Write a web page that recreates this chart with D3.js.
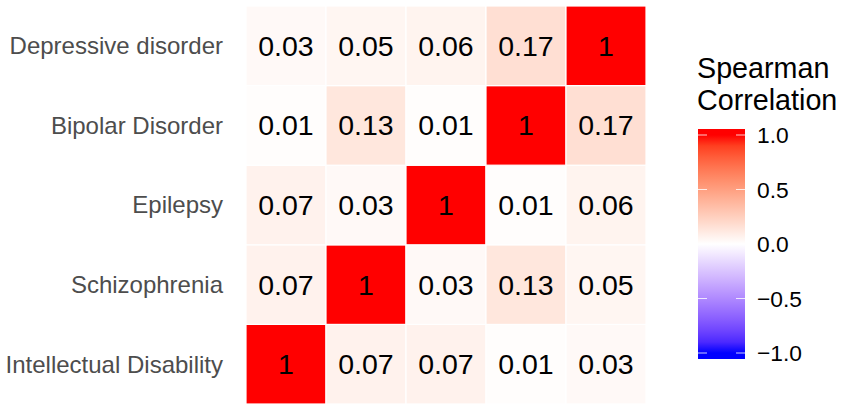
<!DOCTYPE html>
<html>
<head>
<meta charset="utf-8">
<script src="https://cdn.jsdelivr.net/npm/d3@7"></script>
<style>
  body { margin: 0; background: #fff; }
  svg { font-family: "Liberation Sans", Arial, sans-serif; display: block; }
</style>
</head>
<body>
<div id="chart"></div>
<script>
// disorders, bottom to top on y, left to right on x
var disorders = ['Intellectual Disability', 'Schizophrenia', 'Epilepsy', 'Bipolar Disorder', 'Depressive disorder'];

// correlation rows, in the order of disorders (row i = disorder i, col j = disorder j)
var row_intellectual = [1, 0.07, 0.07, 0.01, 0.03];
var row_schizophrenia = [0.07, 1, 0.03, 0.13, 0.05];
var row_epilepsy = [0.07, 0.03, 1, 0.01, 0.06];
var row_bipolar = [0.01, 0.13, 0.01, 1, 0.17];
var row_depressive = [0.03, 0.05, 0.06, 0.17, 1];

var legend_ticks = [1.0, 0.5, 0.0, -0.5, -1.0];

var rows = [row_intellectual, row_schizophrenia, row_epilepsy, row_bipolar, row_depressive];

var cells = [];
rows.forEach((r, i) => r.forEach((v, j) => cells.push({ row: disorders[i], col: disorders[j], value: v })));

var W = 844, H = 405;
var margin = { top: 6, left: 246, right: 198, bottom: 1 };

var svg = d3.select('#chart').append('svg')
  .attr('width', W)
  .attr('height', H);

var x = d3.scaleBand().domain(disorders).range([margin.left, W - margin.right]);
var y = d3.scaleBand().domain(disorders.slice().reverse()).range([margin.top, H - margin.bottom]);

var white_red = d3.interpolateLab('#ffffff', '#ff0000');
var white_blue = d3.interpolateLab('#ffffff', '#0000ff');
function fill(v) {
  return v >= 0 ? white_red(Math.min(v, 1)) : white_blue(Math.min(-v, 1));
}

var grid = svg.append('g').attr('class', 'tiles');

grid.selectAll('rect')
  .data(cells)
  .enter().append('rect')
  .attr('x', d => x(d.col))
  .attr('y', d => y(d.row))
  .attr('width', x.bandwidth())
  .attr('height', y.bandwidth())
  .attr('fill', d => fill(d.value))
  .attr('stroke', '#fff')
  .attr('stroke-width', 1.2);

grid.selectAll('text')
  .data(cells)
  .enter().append('text')
  .attr('x', d => x(d.col) + x.bandwidth() / 2)
  .attr('y', d => y(d.row) + y.bandwidth() / 2)
  .attr('dy', '0.35em')
  .attr('text-anchor', 'middle')
  .attr('font-size', 28.5)
  .attr('fill', '#000')
  .text(d => d.value === 1 ? '1' : d3.format('.2f')(d.value));

// y axis labels only, no ticks or line
svg.append('g')
  .attr('class', 'axis y-axis')
  .selectAll('text')
  .data(disorders)
  .enter().append('text')
  .attr('x', 223)
  .attr('y', d => y(d) + y.bandwidth() / 2)
  .attr('dy', '0.35em')
  .attr('text-anchor', 'end')
  .attr('font-size', 24)
  .attr('fill', '#4d4d4d')
  .text(d => d);

// colour bar legend
var lg = svg.append('g').attr('class', 'legend');

lg.append('text')
  .attr('x', 697)
  .attr('y', 78)
  .attr('font-size', 28.7)
  .text('Spearman');
lg.append('text')
  .attr('x', 697)
  .attr('y', 110)
  .attr('font-size', 28.7)
  .text('Correlation');

var bar = { x: 698, w: 47, top: 129, bottom: 359 };
var ly = d3.scaleLinear().domain([-1, 1]).range([353, 135]);

var grad = svg.append('defs').append('linearGradient')
  .attr('id', 'corr-grad')
  .attr('x1', 0).attr('y1', 1)
  .attr('x2', 0).attr('y2', 0);
d3.range(-1, 1.0001, 0.1).forEach(v => {
  grad.append('stop')
    .attr('offset', (v + 1) / 2)
    .attr('stop-color', fill(v));
});

lg.append('rect')
  .attr('x', bar.x)
  .attr('y', ly(1))
  .attr('width', bar.w)
  .attr('height', ly(-1) - ly(1))
  .attr('fill', 'url(#corr-grad)');
// ends of the bar keep the extreme colour
lg.append('rect')
  .attr('x', bar.x).attr('y', bar.top)
  .attr('width', bar.w).attr('height', ly(1) - bar.top)
  .attr('fill', fill(1));
lg.append('rect')
  .attr('x', bar.x).attr('y', ly(-1))
  .attr('width', bar.w).attr('height', bar.bottom - ly(-1))
  .attr('fill', fill(-1));

legend_ticks.forEach(t => {
  [bar.x, bar.x + bar.w - 9].forEach(tx => {
    lg.append('line')
      .attr('x1', tx).attr('x2', tx + 9)
      .attr('y1', ly(t)).attr('y2', ly(t))
      .attr('stroke', '#fff')
      .attr('stroke-opacity', 0.8)
      .attr('stroke-width', 1);
  });
  lg.append('text')
    .attr('x', 757)
    .attr('y', ly(t))
    .attr('dy', '0.36em')
    .attr('font-size', 22.8)
    .attr('fill', '#000')
    .text(d3.format('.1f')(t).replace('-', '\u2212'));
});
</script>
</body>
</html>
